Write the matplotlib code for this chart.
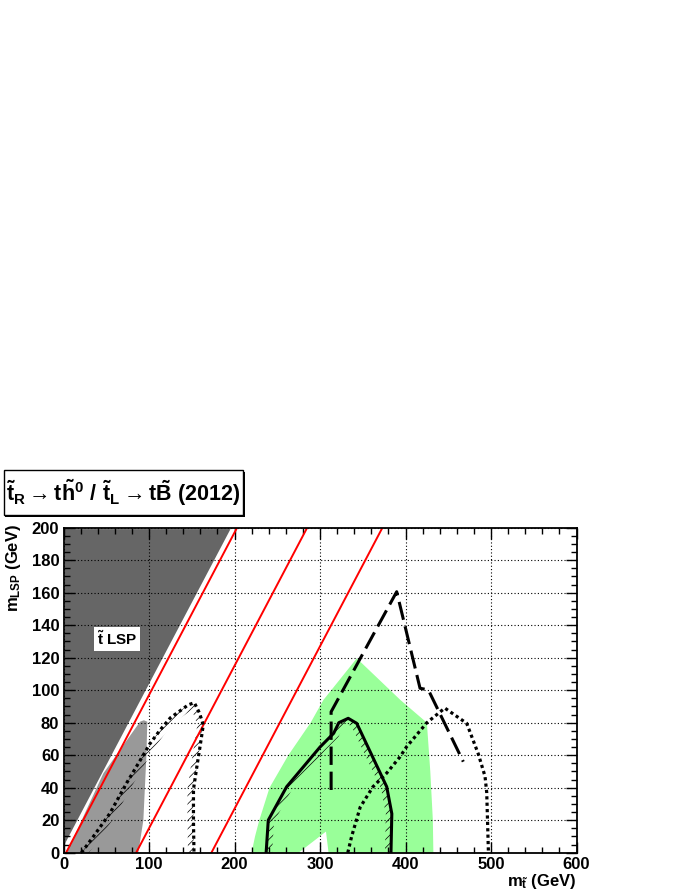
import numpy as np
import matplotlib
matplotlib.use('Agg')
import matplotlib.pyplot as plt
from matplotlib.patches import Polygon, Rectangle

plt.rcParams['font.family'] = ['Liberation Sans', 'DejaVu Sans']
plt.rcParams['font.weight'] = 'bold'
plt.rcParams['axes.labelweight'] = 'bold'
plt.rcParams['mathtext.fontset'] = 'custom'
plt.rcParams['mathtext.rm'] = 'Liberation Sans:bold'
plt.rcParams['mathtext.it'] = 'Liberation Sans:bold'
plt.rcParams['mathtext.bf'] = 'Liberation Sans:bold'
plt.rcParams['mathtext.sf'] = 'Liberation Sans:bold'
plt.rcParams['hatch.linewidth'] = 0.5

#---------------------- DATA (GeV)
# kinematic lines  m_stop = m_LSP + offset
kin_offsets = [3, 85, 173]
mlsp_span   = [0, 200]

# stop LSP region (dark grey)
stoplsp_x = [0, 198, 0]
stoplsp_y = [2, 200, 200]

# light grey excluded region
grey_x = [3.7, 46.6, 89.5, 94, 98, 97, 93.4, 87.5]
grey_y = [0, 48.8, 80.6, 81.5, 80.6, 60, 20, 0]

# green band
green_x = [220, 224, 229, 241, 263, 289, 304, 343, 394, 425, 429, 432, 432.6, 310, 307, 275]
green_y = [0, 10, 20, 40, 60, 80, 94, 119.6, 94, 80, 50, 20, 0, 0, 13, 0]

# dotted contour (low mass)
dotA_x = [21, 35, 54, 74, 91, 101, 113, 125, 146, 153, 159, 163.5, 159.6, 156, 152, 152, 152.6]
dotA_y = [0, 10, 24, 43, 58, 67, 75.5, 83, 91, 92.3, 86, 78.6, 65, 53, 39, 20, 0]

# solid contour
solid_x = [237, 239.5, 261, 300, 316, 322, 333, 343, 378, 384, 383]
solid_y = [0, 20, 40.6, 65, 73.5, 80, 82.7, 79.6, 40.6, 24, 0]

# dashed contour
dash_x = [313, 313, 389.7, 417, 426.7, 467.6]
dash_y = [38.6, 86.7, 160.6, 101.2, 100.2, 56]

# dotted contour (high mass)
dotB_x = [332.5, 337, 347, 362, 378, 393.6, 401, 425, 446, 471.6, 485, 493, 495, 497]
dotB_y = [0, 10, 28, 40.6, 49, 59, 65, 80, 89, 79.6, 61, 47, 37, 0]


def hatch_band(ax, xs, ys, width_px=6, hatch='////'):
    pts = ax.transData.transform(np.column_stack([xs, ys]))
    tang = np.zeros_like(pts)
    tang[1:-1] = pts[2:] - pts[:-2]
    tang[0] = pts[1] - pts[0]
    tang[-1] = pts[-1] - pts[-2]
    tang /= np.hypot(tang[:, 0], tang[:, 1])[:, None]
    norm = np.column_stack([tang[:, 1], -tang[:, 0]])
    inner = pts + norm * width_px
    poly = np.vstack([pts, inner[::-1]])
    poly = ax.transData.inverted().transform(poly)
    ax.add_patch(Polygon(poly, closed=True, facecolor='none', edgecolor='black',
                         linewidth=0, hatch=hatch, zorder=2.6))


fig = plt.figure(figsize=(6.92, 8.96), dpi=100)
ax = fig.add_axes([63.5/692, 1-852.7/896, 513/692, 325/896])
ax.set_xlim(0, 600)
ax.set_ylim(0, 200)

ax.add_patch(Polygon(np.column_stack([stoplsp_x, stoplsp_y]), closed=True,
                     facecolor='#666666', edgecolor='white', linewidth=2, zorder=1))
ax.add_patch(Polygon(np.column_stack([grey_x, grey_y]), closed=True,
                     facecolor='#999999', edgecolor='none', zorder=1.1))
ax.add_patch(Polygon(np.column_stack([green_x, green_y]), closed=True,
                     facecolor='#99ff99', edgecolor='none', zorder=1.1))

for off in kin_offsets:
    ax.plot([mlsp_span[0]+off, mlsp_span[1]+off], mlsp_span, color='red', linewidth=1.4, zorder=3)

hatch_band(ax, dotA_x, dotA_y)
hatch_band(ax, solid_x, solid_y)

ax.plot(dotA_x, dotA_y, color='black', linewidth=2.3, linestyle=(0, (1, 1)), zorder=3)
ax.plot(dotB_x, dotB_y, color='black', linewidth=2.3, linestyle=(0, (1, 1)), zorder=3)
ax.plot(solid_x, solid_y, color='black', linewidth=2.2, zorder=3)
ax.plot(dash_x, dash_y, color='black', linewidth=2.2, linestyle=(0, (6, 2.2)), zorder=3)

ax.set_xticks(np.arange(0, 601, 100))
ax.set_xticks(np.arange(0, 601, 20), minor=True)
ax.set_yticks(np.arange(0, 201, 20))
ax.set_yticks(np.arange(0, 201, 5), minor=True)
ax.tick_params(which='both', direction='in', top=True, right=True, labelsize=12)
ax.tick_params(which='major', length=8, width=1, pad=3)
ax.tick_params(which='minor', length=4, width=1)
for t in ax.xaxis.get_major_ticks() + ax.yaxis.get_major_ticks():
    t.label1.set_fontweight('bold')
ax.set_axisbelow(False)
ax.grid(True, which='major', color='black', linestyle=(0, (1, 2)), linewidth=0.8)
for s in ax.spines.values():
    s.set_linewidth(1.3)
    s.set_zorder(4)

ax.set_xlabel(r'$m_{\tilde{t}}$ (GeV)', fontsize=12, loc='right')
ax.set_ylabel(r'$m_{LSP}$ (GeV)', fontsize=12, loc='top')
ax.xaxis.set_label_coords(1.0, -0.06)
ax.yaxis.set_label_coords(-0.078, 1.01)

ax.text(62.6, 131.5, r'$\tilde{t}$ LSP', fontsize=11, ha='center', va='center',
        bbox=dict(facecolor='white', edgecolor='none', pad=2), zorder=5)

# title box
fig.patches.append(Rectangle((5/692, 1-517/896), 240/692, 45/896, transform=fig.transFigure,
                             facecolor='black', edgecolor='none', zorder=0))
fig.patches.append(Rectangle((3.5/692, 1-515/896), 239/692, 45/896, transform=fig.transFigure,
                             facecolor='white', edgecolor='black', linewidth=1, zorder=1))
fig.text(123/692, 1-493/896,
         r'$\tilde{t}_{R} \rightarrow t\tilde{h}^{0}\ /\ \tilde{t}_{L} \rightarrow t\tilde{B}$ (2012)',
         fontsize=15.5, ha='center', va='center')

plt.savefig('out.png', dpi=100)
